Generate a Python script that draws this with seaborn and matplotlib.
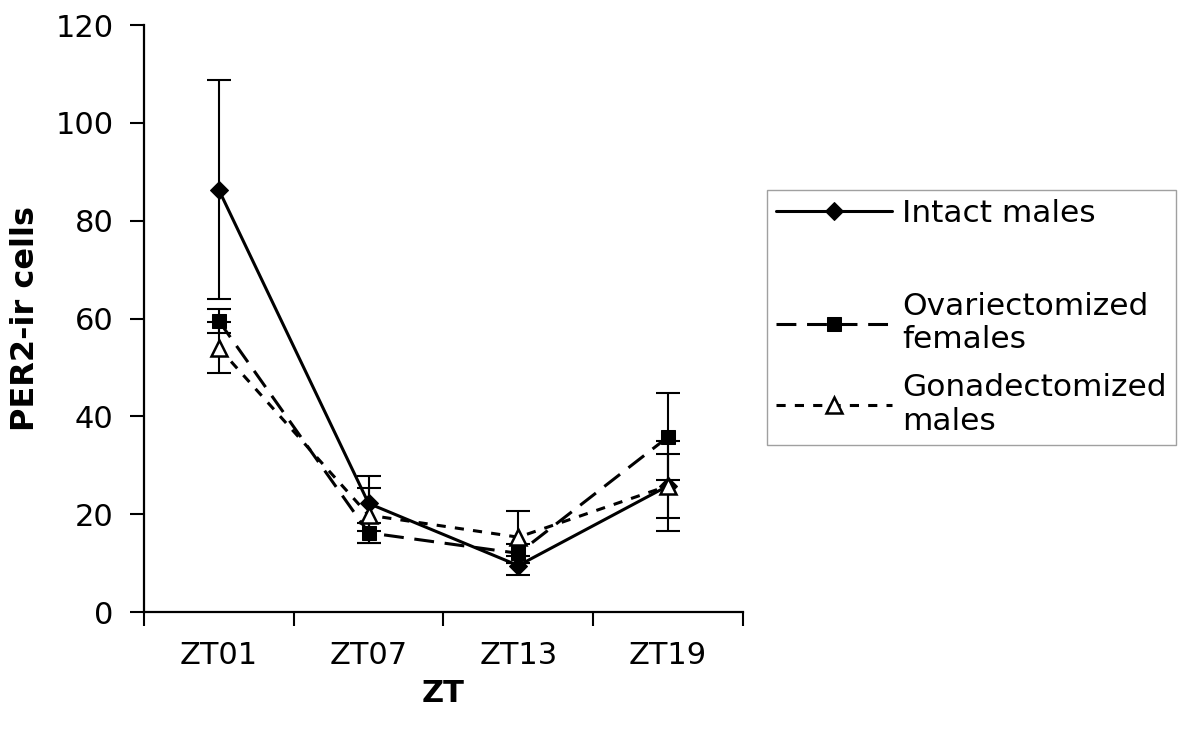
import pandas as pd
import matplotlib
matplotlib.use('Agg')
import matplotlib.pyplot as plt
import seaborn as sns

# Data (means and SE)
timepoints = ['ZT01', 'ZT07', 'ZT13', 'ZT19']
intact_mean = [86.3, 22.2, 9.5, 25.8]
intact_se = [22.4, 5.6, 1.9, 9.2]
ovx_mean = [59.5, 16.2, 12.0, 35.8]
ovx_se = [2.4, 2.0, 2.0, 8.9]
gdx_mean = [54.0, 19.8, 15.3, 25.8]
gdx_se = [5.2, 5.6, 5.3, 6.6]
groups = ['Intact males', 'Ovariectomized\nfemales', 'Gonadectomized\nmales']

sns.set_style('ticks')
plt.rcParams['font.family'] = ['DejaVu Sans']
for key in ['text.color', 'axes.labelcolor', 'xtick.color', 'ytick.color', 'axes.edgecolor']:
    plt.rcParams[key] = 'black'

rows = []
for g, means, ses in zip(groups, [intact_mean, ovx_mean, gdx_mean], [intact_se, ovx_se, gdx_se]):
    for i, (m, s) in enumerate(zip(means, ses)):
        rows.append({'group': g, 'pos': i, 'ZT': timepoints[i], 'mean': m, 'se': s})
df = pd.DataFrame(rows)

styles = {
    groups[0]: dict(marker='D', markersize=9.5, linestyle='-', mfc='black', mec='black'),
    groups[1]: dict(marker='s', markersize=10.5, linestyle=(0, (6.5, 3.5)), mfc='black', mec='black'),
    groups[2]: dict(marker='^', markersize=11, linestyle=(0, (3, 3)), mfc='white', mec='black', mew=1.8),
}

fig = plt.figure(figsize=(11.88, 7.32), dpi=100)
ax = fig.add_axes([0.1212, 0.1639, 0.5042, 0.8019])

handles = []
for g in groups:
    sub = df[df['group'] == g]
    ax.errorbar(sub['pos'], sub['mean'], yerr=sub['se'], fmt='none', ecolor='black',
                elinewidth=1.5, capsize=8.5, capthick=1.5, zorder=1)
    sns.lineplot(data=sub, x='pos', y='mean', color='black', linewidth=2.2,
                 ax=ax, legend=False, zorder=2, **styles[g])
    handles.append(ax.get_lines()[-1])

ax.set_xlim(-0.5, 3.5)
ax.set_ylim(0, 120)
ax.set_yticks(range(0, 121, 20))
ax.set_xticks([-0.5, 0.5, 1.5, 2.5, 3.5])
ax.set_xticklabels([])
ax.set_xticks(range(len(timepoints)), minor=True)
ax.set_xticklabels(timepoints, minor=True)
ax.tick_params(axis='x', which='major', length=10, width=1.5, direction='out')
ax.tick_params(axis='x', which='minor', length=0, pad=21, labelsize=22)
ax.tick_params(axis='y', length=10, width=1.5, pad=12, labelsize=22)

for side in ['top', 'right']:
    ax.spines[side].set_visible(False)
for side in ['left', 'bottom']:
    ax.spines[side].set_linewidth(1.6)

ax.set_xlabel('ZT', fontsize=22, fontweight='bold', labelpad=6)
ax.set_ylabel('PER2-ir cells', fontsize=23, fontweight='bold', labelpad=10)

# blank spacer entry to mimic the uneven gaps in the original legend
spacer = plt.Line2D([], [], alpha=0)
leg = fig.legend([handles[0], spacer, handles[1], handles[2]],
                 [groups[0], ' ', groups[1], groups[2]],
                 loc='upper left', bbox_to_anchor=(767 / 1188, 1 - 190 / 732),
                 bbox_transform=fig.transFigure, fontsize=22.5, frameon=True,
                 fancybox=False, edgecolor='#888888', handlelength=3.7,
                 handletextpad=0.33, borderpad=0.3, labelspacing=0.6,
                 borderaxespad=0)
leg.get_texts()[1].set_fontsize(13)
leg.get_frame().set_linewidth(1.0)

fig.savefig('out.png', dpi=100, facecolor='white')
